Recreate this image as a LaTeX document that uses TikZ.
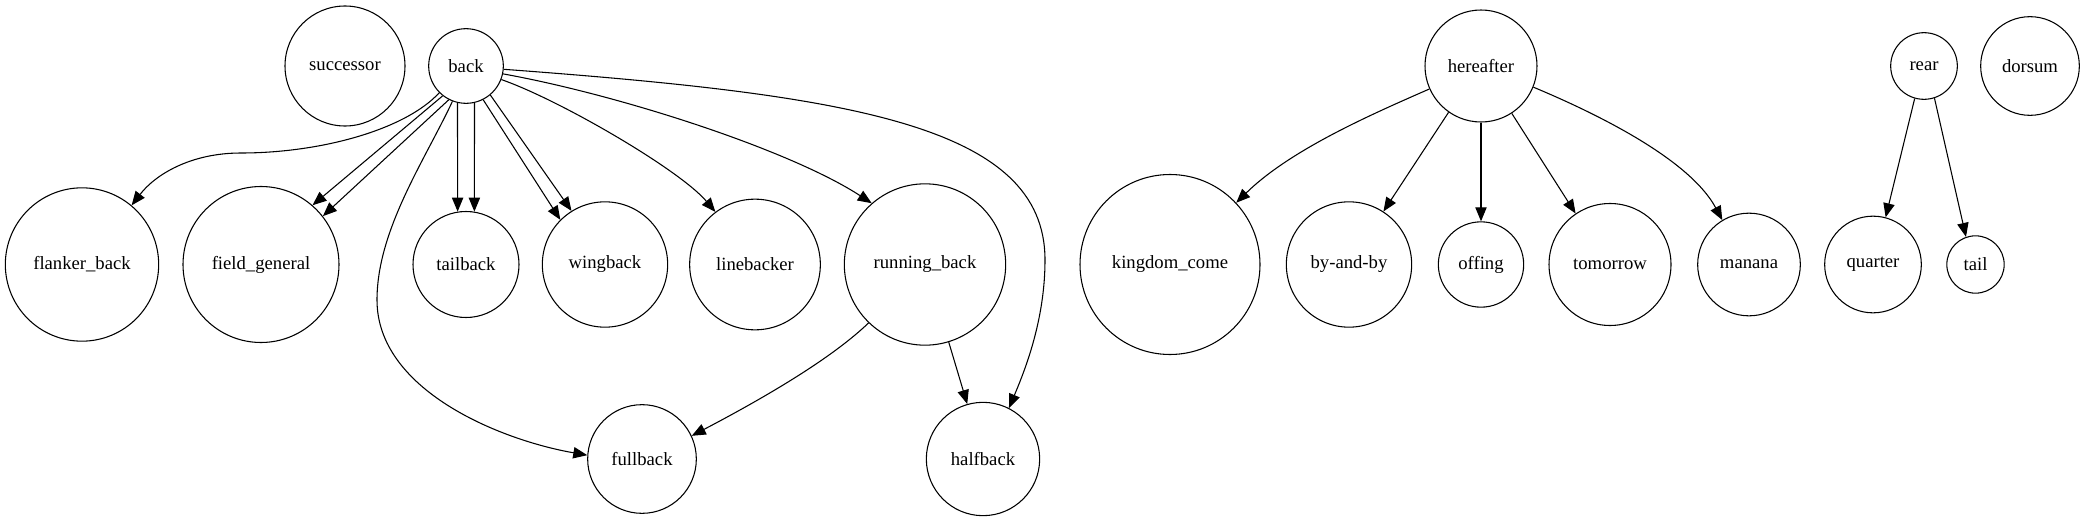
\documentclass[tikz,border=0pt]{standalone}
\usepackage{fontspec}
\setmainfont{Liberation Serif}
\usetikzlibrary{arrows.meta}

\tikzset{
    term/.style={circle, draw, line width=0.8pt, inner sep=0pt, font=\fontsize{14}{17}\selectfont},
    link/.style={line width=0.8pt, -{Triangle[length=10.5pt,width=8.5pt]}},
}

\begin{document}
\begin{tikzpicture}[x=0.75pt, y=-0.75pt]
    \useasboundingbox (0,0) rectangle (2086,521);
    % top row
    \node[term, minimum size=90pt] (succ) at (345,66) {successor};
    \node[term, minimum size=56pt] (back) at (466,66) {back};
    \node[term, minimum size=84pt] (hereafter) at (1481,66) {hereafter};
    \node[term, minimum size=50pt] (rear) at (1924,66) {rear};
    \node[term, minimum size=74pt] (dorsum) at (2030,66) {dorsum};
    % middle row
    \node[term, minimum size=115pt] (flanker) at (82,264.5) {flanker\_back};
    \node[term, minimum size=117pt] (general) at (261,264.5) {field\_general};
    \node[term, minimum size=79.5pt] (tailback) at (466,264.5) {tailback};
    \node[term, minimum size=94pt] (wingback) at (605,264.5) {wingback};
    \node[term, minimum size=98pt] (linebacker) at (755,264.5) {linebacker};
    \node[term, minimum size=121pt] (running) at (925,264.5) {running\_back};
    \node[term, minimum size=135pt] (kingdom) at (1170,264.5) {kingdom\_come};
    \node[term, minimum size=94pt] (byandby) at (1349,264.5) {by-and-by};
    \node[term, minimum size=64pt] (offing) at (1481,264.5) {offing};
    \node[term, minimum size=91.5pt] (tomorrow) at (1610,264.5) {tomorrow};
    \node[term, minimum size=77pt] (manana) at (1749,264.5) {manana};
    \node[term, minimum size=72.5pt] (quarter) at (1873,264.5) {quarter};
    \node[term, minimum size=43pt] (tail) at (1975.5,264.5) {tail};
    % bottom row
    \node[term, minimum size=81.5pt] (fullback) at (642,459) {fullback};
    \node[term, minimum size=85pt] (halfback) at (983,459) {halfback};

    % edges out of back
    \draw[link] (back.225) .. controls (405,130) and (320,153) .. (241,153)
        .. controls (190,153) and (155,175) .. (flanker.50);
    \draw[link] (back.232) -- (general.49);
    \draw[link] (back.243) -- (general.38);
    \draw[link] (back.249) .. controls (425,160) and (377,230) .. (377,300)
        .. controls (377,390) and (500,440) .. (fullback.176);
    \draw[link] (back.-103) -- (tailback.99);
    \draw[link] (back.-77) -- (tailback.81);
    \draw[link] (back.-63) -- (wingback.135);
    \draw[link] (back.-50) -- (wingback.122);
    \draw[link] (back.-21) .. controls (560,100) and (680,170) .. (linebacker.127);
    \draw[link] (back.-12) .. controls (620,95) and (790,150) .. (running.131);
    \draw[link] (back.-5) .. controls (850,95) and (1045,125) .. (1045,260)
        .. controls (1045,320) and (1025,370) .. (halfback.63);
    % edges out of running_back
    \draw[link] (running.226) .. controls (830,360) and (760,400) .. (fullback.25);
    \draw[link] (running.-73) -- (halfback.106);
    % edges out of hereafter
    \draw[link] (hereafter.204) .. controls (1370,115) and (1290,150) .. (kingdom.43);
    \draw[link] (hereafter.235) -- (byandby.57);
    \draw[link] (hereafter.south) -- (offing.north);
    \draw[link] (hereafter.-57) -- (tomorrow.124);
    \draw[link] (hereafter.-22) .. controls (1600,115) and (1690,160) .. (manana.121);
    % edges out of rear
    \draw[link] (rear.-106) -- (quarter.75);
    \draw[link] (rear.-72) -- (tail.109);
\end{tikzpicture}
\end{document}
